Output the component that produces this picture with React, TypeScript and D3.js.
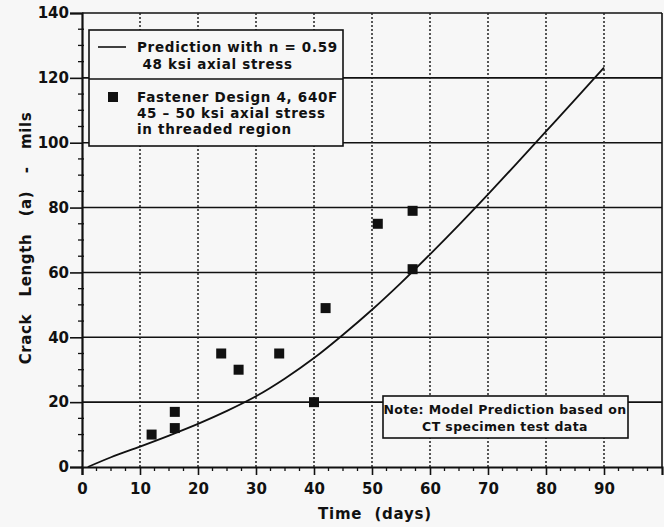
import React, { useEffect, useRef } from "react";
import * as d3 from "d3";

// measured points (Fastener Design 4, 640F)
const testDays = [12, 16, 16, 24, 27, 34, 40, 42, 51, 57, 57];
const testCrack = [10, 17, 12, 35, 30, 35, 20, 49, 75, 79, 61];

// prediction curve
const predDays = [1, 5, 10, 15, 20, 25, 30, 35, 40, 45, 50, 55, 60, 65, 70, 75, 80, 85, 90];
const predCrack = [0, 3, 6.3, 9.7, 13.3, 17.3, 21.8, 27.3, 33.6, 40.8, 48.5, 56.8, 65.6, 74.7, 84.1, 93.7, 103.5, 113.3, 123.2];

const xTicks = [0, 10, 20, 30, 40, 50, 60, 70, 80, 90];
const yTicks = [0, 20, 40, 60, 80, 100, 120, 140];

const legendLines = ["Prediction with n = 0.59", " 48 ksi axial stress"];
const legendPoints = ["Fastener Design 4, 640F", "45 \u2013 50 ksi axial stress", "in threaded region"];
const noteLines = ["Note: Model Prediction based on", "CT specimen test data"];

const FONT = "'DejaVu Sans', Verdana, sans-serif";

const App = () => {
  const ref = useRef<SVGSVGElement>(null);

  useEffect(() => {
    const svg = d3.select(ref.current);
    svg.selectAll("*").remove();

    const W = 664,
      H = 527;
    const left = 82,
      right = 662,
      top = 13,
      bottom = 467;

    svg.append("rect").attr("width", W).attr("height", H).attr("fill", "#f7f7f7");

    const x = d3.scaleLinear().domain([0, 100]).range([left, right]);
    const y = d3.scaleLinear().domain([0, 140]).range([bottom, top]);

    const g = svg.append("g");

    // solid horizontal grid
    g.selectAll("line.hgrid")
      .data(yTicks.filter((d) => d > 0))
      .join("line")
      .attr("class", "hgrid")
      .attr("x1", left)
      .attr("x2", right)
      .attr("y1", (d) => y(d))
      .attr("y2", (d) => y(d))
      .attr("stroke", "#111")
      .attr("stroke-width", 1.6);

    // dotted vertical grid
    g.selectAll("line.vgrid")
      .data(xTicks.filter((d) => d > 0))
      .join("line")
      .attr("class", "vgrid")
      .attr("x1", (d) => x(d))
      .attr("x2", (d) => x(d))
      .attr("y1", top)
      .attr("y2", bottom)
      .style("stroke", "#222")
      .style("stroke-width", "1.5px")
      .style("stroke-dasharray", "2 2");

    // right border
    g.append("line")
      .attr("x1", right)
      .attr("x2", right)
      .attr("y1", top)
      .attr("y2", bottom)
      .attr("stroke", "#111")
      .attr("stroke-width", 1.6);

    // x axis
    const xAxis = d3
      .axisBottom(x)
      .tickValues(xTicks)
      .tickSize(8)
      .tickPadding(8)
      .tickFormat(d3.format("d"));
    const xa = g
      .append("g")
      .attr("transform", `translate(0,${bottom})`)
      .call(xAxis);
    xa.select(".domain").attr("stroke", "#111").attr("stroke-width", 2.2);
    xa.selectAll(".tick line").attr("stroke", "#111").attr("stroke-width", 1.6);
    xa.selectAll("text")
      .attr("font-family", FONT)
      .attr("font-weight", "bold")
      .attr("font-size", 15)
      .attr("fill", "#111");

    g.append("g")
      .selectAll("line")
      .data(d3.range(0, 100.1, 2.5).filter((d) => d % 10 !== 0))
      .join("line")
      .attr("x1", (d) => x(d))
      .attr("x2", (d) => x(d))
      .attr("y1", bottom)
      .attr("y2", bottom + 4)
      .attr("stroke", "#111")
      .attr("stroke-width", 1.3);

    // y axis
    const yAxis = d3
      .axisLeft(y)
      .tickValues(yTicks)
      .tickSize(12)
      .tickPadding(1)
      .tickFormat(d3.format("d"));
    const ya = g
      .append("g")
      .attr("transform", `translate(${left},0)`)
      .call(yAxis);
    ya.select(".domain").attr("stroke", "#111").attr("stroke-width", 2.2);
    ya.selectAll(".tick line").attr("stroke", "#111").attr("stroke-width", 1.6);
    ya.selectAll("text")
      .attr("font-family", FONT)
      .attr("font-weight", "bold")
      .attr("font-size", 15)
      .attr("fill", "#111");

    g.append("g")
      .selectAll("line")
      .data(d3.range(0, 140.1, 5).filter((d) => d % 20 !== 0))
      .join("line")
      .attr("x1", left - 4)
      .attr("x2", left + 2)
      .attr("y1", (d) => y(d))
      .attr("y2", (d) => y(d))
      .attr("stroke", "#111")
      .attr("stroke-width", 1.3);

    // prediction curve
    const line = d3
      .line<number>()
      .x((d, i) => x(predDays[i]))
      .y((d) => y(d))
      .curve(d3.curveMonotoneX);
    g.append("path")
      .datum(predCrack)
      .attr("d", line)
      .attr("fill", "none")
      .attr("stroke", "#111")
      .attr("stroke-width", 1.8);

    // test points
    const s = 10;
    g.selectAll("rect.pt")
      .data(testDays)
      .join("rect")
      .attr("class", "pt")
      .attr("x", (d) => x(d) - s / 2)
      .attr("y", (d, i) => y(testCrack[i]) - s / 2)
      .attr("width", s)
      .attr("height", s)
      .attr("fill", "#111");

    // legend
    const lg = g.append("g");
    lg.append("rect")
      .attr("x", 89)
      .attr("y", 30)
      .attr("width", 254)
      .attr("height", 116)
      .attr("fill", "#f7f7f7")
      .attr("stroke", "#111")
      .attr("stroke-width", 1.6);
    lg.append("line")
      .attr("x1", 89)
      .attr("x2", 343)
      .attr("y1", 79)
      .attr("y2", 79)
      .attr("stroke", "#111")
      .attr("stroke-width", 1.6);
    lg.append("line")
      .attr("x1", 98)
      .attr("x2", 126)
      .attr("y1", 47)
      .attr("y2", 47)
      .attr("stroke", "#111")
      .attr("stroke-width", 1.6);
    lg.append("rect")
      .attr("x", 108)
      .attr("y", 92)
      .attr("width", 10)
      .attr("height", 10)
      .attr("fill", "#111");
    lg.selectAll("text.l1")
      .data(legendLines)
      .join("text")
      .attr("class", "l1")
      .attr("x", 137)
      .attr("y", (d, i) => 52 + i * 17)
      .text((d) => d);
    lg.selectAll("text.l2")
      .data(legendPoints)
      .join("text")
      .attr("class", "l2")
      .attr("x", 137)
      .attr("y", (d, i) => 102 + i * 16)
      .text((d) => d);
    lg.selectAll("text")
      .attr("font-family", FONT)
      .attr("font-weight", "bold")
      .attr("font-size", 13.5)
      .attr("letter-spacing", 0.7)
      .attr("fill", "#111")
      .style("white-space", "pre");

    // note box
    const nb = g.append("g");
    nb.append("rect")
      .attr("x", 383)
      .attr("y", 396)
      .attr("width", 245)
      .attr("height", 42)
      .attr("fill", "#f7f7f7")
      .attr("stroke", "#111")
      .attr("stroke-width", 1.6);
    nb.selectAll("text")
      .data(noteLines)
      .join("text")
      .attr("x", 505)
      .attr("y", (d, i) => 414 + i * 17)
      .attr("text-anchor", "middle")
      .attr("font-family", FONT)
      .attr("font-weight", "bold")
      .attr("font-size", 12.5)
      .attr("letter-spacing", 0.4)
      .attr("fill", "#111")
      .text((d) => d);

    // axis titles
    svg.append("text")
      .attr("x", 375)
      .attr("y", 519)
      .attr("text-anchor", "middle")
      .attr("font-family", FONT)
      .attr("font-weight", "bold")
      .attr("font-size", 15)
      .attr("letter-spacing", 0.8)
      .attr("fill", "#111")
      .style("white-space", "pre")
      .text("Time  (days)");

    svg.append("text")
      .attr("transform", "translate(31,238) rotate(-90)")
      .attr("text-anchor", "middle")
      .attr("font-family", FONT)
      .attr("font-weight", "bold")
      .attr("font-size", 15)
      .attr("letter-spacing", 0.6)
      .attr("fill", "#111")
      .style("white-space", "pre")
      .text("Crack   Length   (a)   -   mils");
  }, []);

  return (
    <svg
      ref={ref}
      width={664}
      height={527}
      style={{ position: "absolute", left: 0, top: 0 }}
    />
  );
};

export default App;
